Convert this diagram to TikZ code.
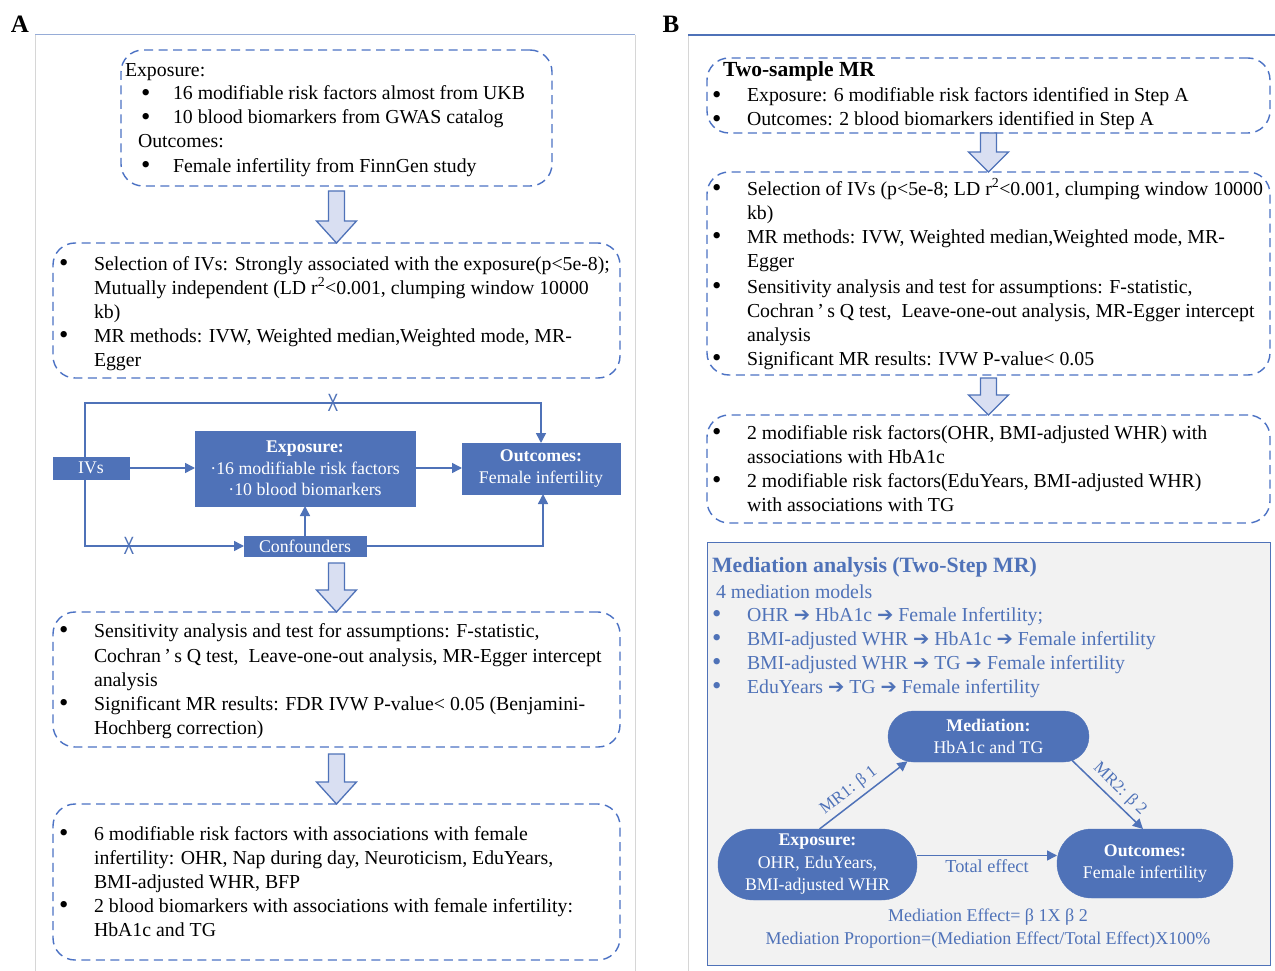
\documentclass[tikz,border=0pt]{standalone}
\usepackage{fontspec}
\setmainfont{Liberation Serif}
\newfontfamily\dejavu{DejaVu Sans}
\newfontfamily\lsans{Liberation Sans}
\usetikzlibrary{arrows.meta,shapes.misc,calc}
\definecolor{mblue}{RGB}{79,114,184}
\definecolor{dblue}{RGB}{76,114,196}
\definecolor{lav}{RGB}{217,223,242}
\definecolor{pgray}{RGB}{214,214,214}
\definecolor{atop}{RGB}{150,172,215}
\definecolor{medbg}{RGB}{242,242,242}
\newcounter{tlc}
\newcommand\tl[4][]{\stepcounter{tlc}\node[txt,#1] (tl\arabic{tlc}) at (#2,{#3+6}) {#4};}
\newcommand\bl[3][]{\tl[#1]{#2}{#3}{\raisebox{-1.6pt}{\scalebox{1.35}{\textbullet}}}}
\newcommand\rarr{{\dejavu\fontsize{19.5}{19}\selectfont ➔}}
\newcommand\blockarr[4]{\draw[barrow] let \p1=(#1), \p2=(#2) in (\x2-8pt,\y1-#3pt) -- (\x2+8pt,\y1-#3pt) -- (\x2+8pt,\y2+#4pt) -- (\x2+20pt,\y2+#4pt) -- (\x2,\y2) -- (\x2-20pt,\y2+#4pt) -- (\x2-8pt,\y2+#4pt) -- cycle;}
\begin{document}
\begin{tikzpicture}[x=1pt,y=-1pt,
  txt/.style={inner sep=0pt,outer sep=0pt,anchor=base west,font=\fontsize{19.8}{22}\selectfont},
  dbox/.style={draw=dblue,line width=1.4pt,dash pattern=on 9pt off 5.5pt,rounded corners=22pt,inner sep=0pt,outer sep=0pt},
  barrow/.style={draw=mblue,fill=lav,line width=1.3pt,line join=miter},
  fbox/.style={fill=mblue,draw=mblue,text=white,align=center,inner sep=0pt,outer sep=0pt,font=\fontsize{17.8}{21.5}\selectfont},
  conn/.style={draw=mblue,line width=1.5pt,-{Triangle[length=10pt,width=10pt]}},
  xmark/.style={text=mblue,inner sep=0pt,font=\lsans\fontsize{20}{20}\selectfont},
  pill/.style={rounded rectangle,fill=mblue,draw=mblue,text=white,align=center,inner sep=0pt,outer sep=0pt,font=\fontsize{17.8}{22.5}\selectfont},
  mtxt/.style={text=mblue},
  lbl/.style={text=mblue,inner sep=1pt,font=\fontsize{17}{17}\selectfont},
]
\useasboundingbox (0,0) rectangle (1275,971);
\fill[white] (0,0) rectangle (1275,971);

% panel frames
\draw[pgray,line width=1pt] (35,35) -- (35,971) (635,35) -- (635,971) (688,35) -- (688,971);
\draw[atop,line width=1pt] (35,35) -- (635,35);
\draw[mblue,line width=1.2pt] (688,35) -- (1275,35);
\node[font=\bfseries\fontsize{25}{25}\selectfont,inner sep=0pt] (labA) at (20,24) {A};
\node[font=\bfseries\fontsize{25}{25}\selectfont,inner sep=0pt] (labB) at (671,24) {B};

% ---------------- Panel A ----------------
\node[dbox,minimum width=431pt,minimum height=136pt] (a1) at (336.5,118) {};
\tl{125}{71}{Exposure:}
\bl{141}{94}\tl{173}{94}{16 modifiable risk factors almost from UKB}
\bl{141}{118}\tl{173}{118}{10 blood biomarkers from GWAS catalog}
\tl{138}{142}{Outcomes:}
\bl{141}{166}\tl{173}{166}{Female infertility from FinnGen study}

\node[dbox,minimum width=567pt,minimum height=135pt] (a2) at (336.5,310.5) {};
\bl{59}{264}\tl{94}{264}{Selection of IVs: Strongly associated with the exposure(p<5e-8);}
\tl{94}{288}{Mutually independent (LD r\textsuperscript{2}<0.001, clumping window 10000}
\tl{94}{312}{kb)}
\bl{59}{336}\tl{94}{336}{MR methods: IVW, Weighted median,Weighted mode, MR-}
\tl{94}{360}{Egger}

\blockarr{a1.south}{a2.north}{5}{22}

% causal diagram
\node[fbox,minimum width=76pt,minimum height=22pt] (ivs) at (91,468) {IVs};
\node[fbox,minimum width=220pt,minimum height=75pt] (expo) at (305,468.5) {\textbf{Exposure:}\\ ·16 modifiable risk factors\\ ·10 blood biomarkers};
\node[fbox,minimum width=158pt,minimum height=51pt] (outc) at (541,468.5) {\textbf{Outcomes:}\\ Female infertility};
\node[fbox,minimum width=122pt,minimum height=20pt] (conf) at (305,546) {Confounders};
\coordinate (topc) at (333,403);
\coordinate (botc) at (129,546);
\draw[conn] (ivs.east) -- (ivs.east -| expo.west);
\draw[conn] (expo.east |- ivs.east) -- (ivs.east -| outc.west);
\draw[conn] ([xshift=-6pt]ivs.north) |- (topc) -| (outc.north);
\draw[conn] ([xshift=-6pt]ivs.south) |- (conf.west);
\draw[conn] (conf.north) -- (expo.south);
\draw[conn] (conf.east) -| ([xshift=2pt]outc.south);
\node[xmark] (x1) at (topc) {\scalebox{0.8}[1.25]{X}};
\node[xmark] (x2) at (botc) {\scalebox{0.8}[1.25]{X}};

\node[dbox,minimum width=567pt,minimum height=135pt] (a3) at (336.5,679.5) {};
\bl{59}{631}\tl{94}{631}{Sensitivity analysis and test for assumptions: F-statistic,}
\tl{94}{656}{Cochran\,'\,s Q test,\ \ Leave-one-out analysis, MR-Egger intercept}
\tl{94}{680}{analysis}
\bl{59}{704}\tl{94}{704}{Significant MR results: FDR IVW P-value< 0.05 (Benjamini-}
\tl{94}{728}{Hochberg correction)}

\blockarr{conf.south}{a3.north}{7}{22}

\node[dbox,minimum width=567pt,minimum height=156pt] (a4) at (336.5,882) {};
\bl{59}{834}\tl{94}{834}{6 modifiable risk factors with associations with female}
\tl{94}{858}{infertility: OHR, Nap during day, Neuroticism, EduYears,}
\tl{94}{882}{BMI-adjusted WHR, BFP}
\bl{59}{906}\tl{94}{906}{2 blood biomarkers with associations with female infertility:}
\tl{94}{930}{HbA1c and TG}

\blockarr{a3.south}{a4.north}{7}{22}

% ---------------- Panel B ----------------
\node[dbox,minimum width=563pt,minimum height=75pt] (b1) at (988.5,95.5) {};
\tl[font=\bfseries\fontsize{21.5}{22}\selectfont]{723}{71}{Two-sample MR}
\bl{712}{96}\tl{747}{96}{Exposure: 6 modifiable risk factors identified in Step A}
\bl{712}{120}\tl{747}{120}{Outcomes: 2 blood biomarkers identified in Step A}

\node[dbox,minimum width=563pt,minimum height=203pt] (b2) at (988.5,273.5) {};
\bl{712}{189}\tl{747}{189}{Selection of IVs (p<5e-8; LD r\textsuperscript{2}<0.001, clumping window 10000}
\tl{747}{213}{kb)}
\bl{712}{237}\tl{747}{237}{MR methods: IVW, Weighted median,Weighted mode, MR-}
\tl{747}{261}{Egger}
\bl{712}{287}\tl{747}{287}{Sensitivity analysis and test for assumptions: F-statistic,}
\tl{747}{311}{Cochran\,'\,s Q test,\ \ Leave-one-out analysis, MR-Egger intercept}
\tl{747}{335}{analysis}
\bl{712}{359}\tl{747}{359}{Significant MR results: IVW P-value< 0.05}

\blockarr{b1.south}{b2.north}{0}{20}

\node[dbox,minimum width=563pt,minimum height=108pt] (b3) at (988.5,469) {};
\bl{712}{433}\tl{747}{433}{2 modifiable risk factors(OHR, BMI-adjusted WHR) with}
\tl{747}{457}{associations with HbA1c}
\bl{712}{481}\tl{747}{481}{2 modifiable risk factors(EduYears, BMI-adjusted WHR)}
\tl{747}{505}{with associations with TG}

\blockarr{b2.south}{b3.north}{3}{20}

% mediation panel
\node[draw=mblue,fill=medbg,line width=1pt,minimum width=563pt,minimum height=423pt,inner sep=0pt,outer sep=0pt] (medp) at (988.5,753.5) {};
\tl[mtxt,font=\bfseries\fontsize{21.8}{22}\selectfont]{712}{566}{Mediation analysis (Two-Step MR)}
\tl[mtxt]{716}{592}{4 mediation models}
\bl[mtxt]{712}{615}\tl[mtxt]{747}{615}{OHR \rarr{} HbA1c \rarr{} Female Infertility;}
\bl[mtxt]{712}{639}\tl[mtxt]{747}{639}{BMI-adjusted WHR \rarr{} HbA1c \rarr{} Female infertility}
\bl[mtxt]{712}{663}\tl[mtxt]{747}{663}{BMI-adjusted WHR \rarr{} TG \rarr{} Female infertility}
\bl[mtxt]{712}{687}\tl[mtxt]{747}{687}{EduYears \rarr{} TG \rarr{} Female infertility}

\node[pill,minimum width=201pt,minimum height=51pt] (med) at (988.5,736.5) {\textbf{Mediation:}\\ HbA1c and TG};
\node[pill,minimum width=199pt,minimum height=71pt] (mexp) at (817.5,864.5) {\textbf{Exposure:}\\ OHR, EduYears,\\ BMI-adjusted WHR};
\node[pill,minimum width=176pt,minimum height=69pt] (mout) at (1145,863.5) {\textbf{Outcomes:}\\ Female infertility};

\draw[conn] ([xshift=2pt]mexp.north) -- (med.197) node[lbl,pos=0.42,sloped,above=3pt] (mr1) {MR1: β 1};
\draw[conn] (med.-16) -- ([xshift=-2pt]mout.north) node[lbl,pos=0.55,sloped,above=3pt] (mr2) {MR2: β 2};
\draw[conn] ([yshift=9pt]mexp.east) -- ([yshift=9pt]mexp.east -| mout.west) node[lbl,midway,below,yshift=-2pt,font=\fontsize{18.3}{18}\selectfont] (tot) {Total effect};

\node[mtxt,inner sep=0pt,font=\fontsize{18}{18}\selectfont] (mf1) at (988,917) {Mediation Effect= β 1X β 2};
\node[mtxt,inner sep=0pt,font=\fontsize{18}{18}\selectfont] (mf2) at (988,940) {Mediation Proportion=(Mediation Effect/Total Effect)X100\%};
\end{tikzpicture}
\end{document}
